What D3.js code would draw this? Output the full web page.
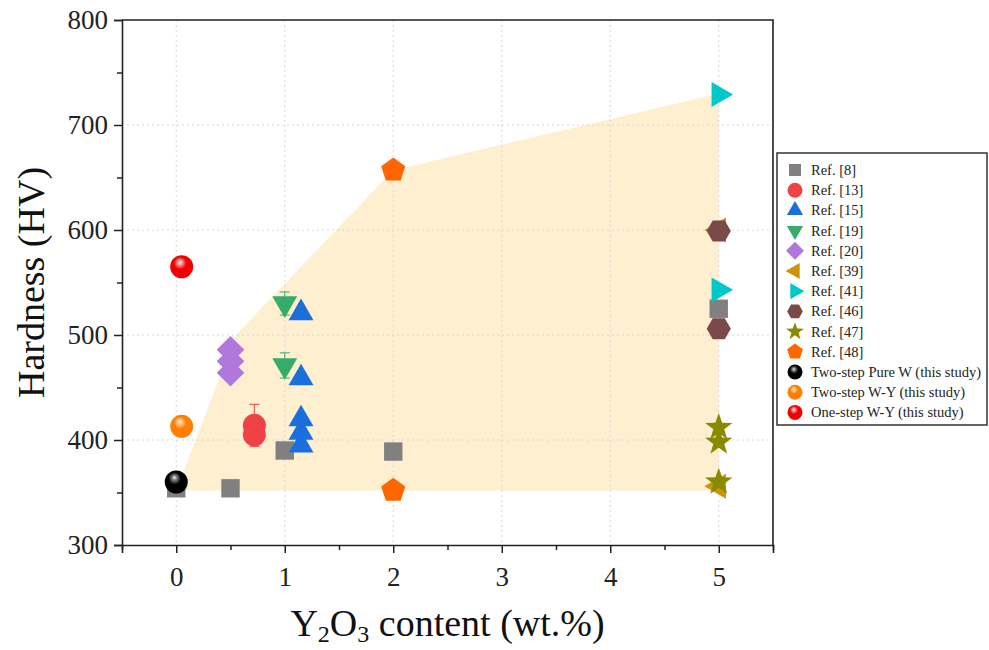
<!DOCTYPE html>
<html lang="en">
<head>
<meta charset="UTF-8">
<title>Hardness vs Y2O3 content</title>
<script src="https://d3js.org/d3.v7.min.js"></script>
<style>
    body { margin: 0; background: #fff; }
    svg { font-family: "Liberation Serif", "Times New Roman", serif; }
    .grid line { stroke: #d8d8d8; stroke-width: 1; stroke-dasharray: 2,3; }
    .legend text { font-size: 14.5px; fill: #222; }
</style>
</head>
<body>
<svg id="chart" width="989" height="650"></svg>
<script>
    // axis ticks
    const xTicks = [0, 1, 2, 3, 4, 5];
    const yTicks = [300, 400, 500, 600, 700, 800];

    // shaded envelope
    const hullX = [0, 0.55, 2, 5, 5];
    const hullY = [352, 500, 657, 730, 352];

    // series (x, y, error)
    const ref8X = [0, 0.5, 1, 2, 5];
    const ref8Y = [354, 354, 390, 389, 525];
    const ref13X = [0.72, 0.72];
    const ref13Y = [414, 405];
    const ref13Err = [20, 0];
    const ref15X = [1.15, 1.15, 1.15, 1.15, 1.15];
    const ref15Y = [521, 459, 420, 407, 395];
    const ref19X = [1, 1];
    const ref19Y = [530, 471];
    const ref19Err = [11, 12];
    const ref20X = [0.5, 0.5, 0.5];
    const ref20Y = [486, 475, 464];
    const ref39X = [5, 5];
    const ref39Y = [600, 356];
    const ref41X = [5, 5];
    const ref41Y = [729, 543];
    const ref46X = [5, 5];
    const ref46Y = [599, 506];
    const ref47X = [5, 5, 5];
    const ref47Y = [412, 398, 360];
    const ref48X = [2, 2];
    const ref48Y = [657, 352];
    const pureWX = [0];
    const pureWY = [360];
    const twoStepX = [0.05];
    const twoStepY = [413];
    const oneStepX = [0.05];
    const oneStepY = [565];

    const series = [
        { name: "Ref. [8]",  x: ref8X,  y: ref8Y,  shape: "square",   color: "#808080" },
        { name: "Ref. [13]", x: ref13X, y: ref13Y, err: ref13Err, shape: "circle", color: "#ef4244" },
        { name: "Ref. [15]", x: ref15X, y: ref15Y, shape: "triUp",    color: "#1a6fdc" },
        { name: "Ref. [19]", x: ref19X, y: ref19Y, err: ref19Err, shape: "triDown", color: "#37ab6a" },
        { name: "Ref. [20]", x: ref20X, y: ref20Y, shape: "diamond",  color: "#b078dc" },
        { name: "Ref. [39]", x: ref39X, y: ref39Y, shape: "triLeft",  color: "#cc9408" },
        { name: "Ref. [41]", x: ref41X, y: ref41Y, shape: "triRight", color: "#00c8c8" },
        { name: "Ref. [46]", x: ref46X, y: ref46Y, shape: "hexagon",  color: "#7a4a4a" },
        { name: "Ref. [47]", x: ref47X, y: ref47Y, shape: "star",     color: "#8a8a00" },
        { name: "Ref. [48]", x: ref48X, y: ref48Y, shape: "pentagon", color: "#ff6600" },
        { name: "Two-step Pure W (this study)", x: pureWX, y: pureWY, shape: "sphere", color: "#000000", grad: "gBlack" },
        { name: "Two-step W-Y (this study)", x: twoStepX, y: twoStepY, shape: "sphere", color: "#ff8000", grad: "gOrange" },
        { name: "One-step W-Y (this study)", x: oneStepX, y: oneStepY, shape: "sphere", color: "#ff0000", grad: "gRed" }
    ];

    const margin = { top: 20, right: 216, bottom: 105, left: 122 },
          width = 989 - margin.left - margin.right,
          height = 650 - margin.top - margin.bottom;

    const svg = d3.select("#chart");
    const defs = svg.append("defs");

    // sphere gradients
    [["gBlack", "#000", "#9a9a9a"], ["gOrange", "#ff7f00", "#ffd0a0"], ["gRed", "#f00000", "#ffb0b0"]]
        .forEach(([id, base, hi]) => {
            const gr = defs.append("radialGradient").attr("id", id)
                .attr("cx", "45%").attr("cy", "40%").attr("r", "60%")
                .attr("fx", "42%").attr("fy", "30%");
            gr.append("stop").attr("offset", "0%").attr("stop-color", "#fff");
            gr.append("stop").attr("offset", "12%").attr("stop-color", hi);
            gr.append("stop").attr("offset", "45%").attr("stop-color", base);
            gr.append("stop").attr("offset", "100%").attr("stop-color", base);
        });

    const g = svg.append("g").attr("transform", `translate(${margin.left},${margin.top})`);

    const x = d3.scaleLinear().domain([-0.5, 5.5]).range([0, width]);
    const y = d3.scaleLinear().domain([300, 800]).range([height, 0]);

    // polygon shape helper
    function poly(n, r, rot) {
        const pts = d3.range(n).map(i => {
            const a = rot + i * 2 * Math.PI / n;
            return [r * Math.cos(a), r * Math.sin(a)];
        });
        return "M" + pts.map(p => p.join(",")).join("L") + "Z";
    }
    function shapePath(type, s) {
        switch (type) {
            case "square": return `M${-s * 0.8},${-s * 0.8}H${s * 0.8}V${s * 0.8}H${-s * 0.8}Z`;
            case "circle":
            case "sphere": return d3.symbol(d3.symbolCircle, Math.PI * s * s)();
            case "triUp": return poly(3, s * 1.25, -Math.PI / 2);
            case "triDown": return poly(3, s * 1.25, Math.PI / 2);
            case "triLeft": return poly(3, s * 1.25, Math.PI);
            case "triRight": return poly(3, s * 1.25, 0);
            case "diamond": return poly(4, s * 1.2, -Math.PI / 2);
            case "hexagon": return poly(6, s * 1.05, 0);
            case "pentagon": return poly(5, s * 1.1, -Math.PI / 2);
            case "star": {
                const pts = d3.range(10).map(i => {
                    const rr = i % 2 ? s * 0.5 : s * 1.25;
                    const a = -Math.PI / 2 + i * Math.PI / 5;
                    return [rr * Math.cos(a), rr * Math.sin(a)];
                });
                return "M" + pts.map(p => p.join(",")).join("L") + "Z";
            }
        }
    }

    // shaded area
    g.append("path")
        .datum(hullX.map((v, i) => [v, hullY[i]]))
        .attr("d", d3.line().x(d => x(d[0])).y(d => y(d[1])).curve(d3.curveLinearClosed))
        .attr("fill", "#fdefcf");

    // grid
    const grid = g.append("g").attr("class", "grid");
    grid.selectAll(".vx").data(xTicks).join("line")
        .attr("x1", d => x(d)).attr("x2", d => x(d)).attr("y1", 0).attr("y2", height);
    grid.selectAll(".hy").data(yTicks.slice(1, -1)).join("line")
        .attr("x1", 0).attr("x2", width).attr("y1", d => y(d)).attr("y2", d => y(d));

    // series
    series.forEach(sr => {
        const pts = sr.x.map((v, i) => ({ x: v, y: sr.y[i], e: sr.err ? sr.err[i] : 0 }));
        const eg = g.append("g").attr("stroke", sr.color).attr("stroke-width", 1);
        pts.filter(d => d.e > 0).forEach(d => {
            eg.append("line").attr("x1", x(d.x)).attr("x2", x(d.x))
                .attr("y1", y(d.y - d.e)).attr("y2", y(d.y + d.e));
            [d.y - d.e, d.y + d.e].forEach(v => {
                eg.append("line").attr("x1", x(d.x) - 5).attr("x2", x(d.x) + 5)
                    .attr("y1", y(v)).attr("y2", y(v));
            });
        });
        g.append("g").selectAll("path").data(pts).join("path")
            .attr("transform", d => `translate(${x(d.x)},${y(d.y)})`)
            .attr("d", shapePath(sr.shape, 11.5))
            .attr("fill", sr.grad ? `url(#${sr.grad})` : sr.color);
    });

    // axes
    g.append("g").attr("transform", `translate(0,${height})`)
        .call(d3.axisBottom(x).tickValues(xTicks).tickSize(8).tickPadding(14).tickFormat(d3.format("d")));
    g.append("g").attr("transform", `translate(0,${height})`)
        .call(d3.axisBottom(x).tickValues(d3.range(-0.5, 5.6, 1)).tickSize(5).tickFormat(""))
        .select(".domain").remove();
    g.append("g")
        .call(d3.axisLeft(y).tickValues(yTicks).tickSize(8).tickPadding(6));
    g.append("g")
        .call(d3.axisLeft(y).tickValues(d3.range(350, 800, 100)).tickSize(5).tickFormat(""))
        .select(".domain").remove();

    g.selectAll(".domain").attr("stroke", "#222").attr("stroke-width", 1.6);
    g.selectAll(".tick line").attr("stroke", "#222").attr("stroke-width", 1.5);
    g.selectAll(".tick text").attr("font-size", 27).attr("fill", "#222")
        .attr("font-family", "Liberation Serif, serif");

    // frame top & right
    g.append("path").attr("d", `M0,0H${width}V${height}`)
        .attr("fill", "none").attr("stroke", "#222").attr("stroke-width", 1.6);

    // axis titles
    svg.append("text")
        .attr("transform", `translate(44,${margin.top + height / 2}) rotate(-90)`)
        .attr("text-anchor", "middle").attr("font-size", 38).attr("fill", "#111")
        .text("Hardness (HV)");

    const xt = svg.append("text")
        .attr("x", margin.left + x(2.5)).attr("y", 636)
        .attr("text-anchor", "middle").attr("font-size", 38).attr("fill", "#111");
    xt.append("tspan").text("Y");
    xt.append("tspan").attr("font-size", 24).attr("dy", 6).text("2");
    xt.append("tspan").attr("dy", -6).text("O");
    xt.append("tspan").attr("font-size", 24).attr("dy", 6).text("3");
    xt.append("tspan").attr("dy", -6).text(" content (wt.%)");

    // legend
    const lg = svg.append("g").attr("class", "legend").attr("transform", "translate(777,153)");
    lg.append("rect").attr("width", 210).attr("height", 272)
        .attr("fill", "#fff").attr("stroke", "#333").attr("stroke-width", 1.5);
    series.forEach((sr, i) => {
        const row = lg.append("g").attr("transform", `translate(18,${17 + i * 20.2})`);
        row.append("path").attr("d", shapePath(sr.shape, 7.5))
            .attr("fill", sr.grad ? `url(#${sr.grad})` : sr.color);
        row.append("text").attr("x", 16).attr("y", 5).text(sr.name);
    });
</script>
</body>
</html>
